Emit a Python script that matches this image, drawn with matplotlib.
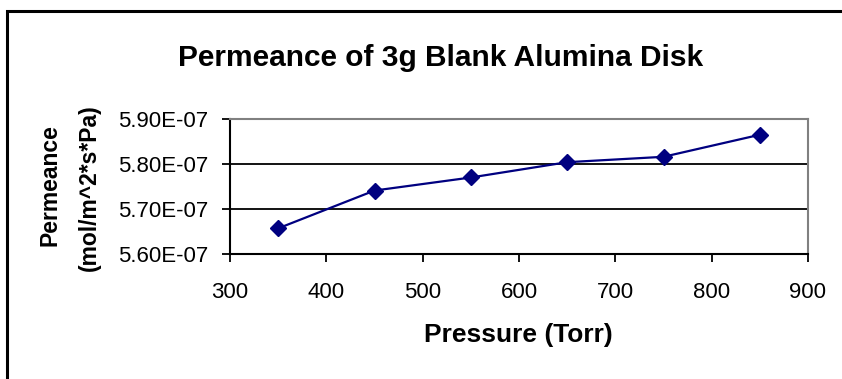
import matplotlib.pyplot as plt
from matplotlib.patches import Rectangle
from matplotlib.ticker import FuncFormatter

pressure = [350, 450, 550, 650, 750, 850]
permeance = [5.657e-07, 5.741e-07, 5.770e-07, 5.804e-07, 5.816e-07, 5.865e-07]
x_ticks = [300, 400, 500, 600, 700, 800, 900]
y_ticks = [5.60e-07, 5.70e-07, 5.80e-07, 5.90e-07]

plt.rcParams['font.family'] = ['Liberation Sans', 'DejaVu Sans']

W, H = 842, 379
fig = plt.figure(figsize=(W / 100, H / 100), dpi=100)
# plot area in pixels: x 230..808, y 119..254
ax = fig.add_axes([230 / W, 1 - 254 / H, 578 / W, 135 / H])

# chart frame (runs off the right and bottom edges)
fig.patches.append(Rectangle((7 / W, -0.05), 1.2, 1 - 11 / H + 0.05,
                             transform=fig.transFigure, fill=False,
                             edgecolor='black', linewidth=2.2, zorder=0))

for y in y_ticks[1:-1]:
    ax.axhline(y, color='black', linewidth=1.3, zorder=1)

ax.plot(pressure, permeance, color='#000080', linewidth=1.6,
        marker='D', markersize=8, markerfacecolor='#000080',
        markeredgecolor='#000080', zorder=3)

ax.set_xlim(300, 900)
ax.set_ylim(5.60e-07, 5.90e-07)
ax.set_xticks(x_ticks)
ax.set_yticks(y_ticks)
ax.yaxis.set_major_formatter(FuncFormatter(lambda v, p: f"{v*1e7:.2f}E-07"))

for side in ['top', 'right']:
    ax.spines[side].set_color('#808080')
    ax.spines[side].set_linewidth(1.5)
for side in ['left', 'bottom']:
    ax.spines[side].set_color('black')
    ax.spines[side].set_linewidth(1.5)

ax.tick_params(axis='both', direction='out', length=5.5, width=1.3,
               labelsize=16, colors='black')
ax.tick_params(axis='x', pad=15)
ax.tick_params(axis='y', pad=10)

fig.text(518 / W, 1 - 335 / H, 'Pressure (Torr)', ha='center', va='center',
         fontsize=19, fontweight='bold')
fig.text(50 / W, 1 - 185 / H, 'Permeance', ha='center', va='center',
         rotation=90, fontsize=16.5, fontweight='bold')
fig.text(89 / W, 1 - 188 / H, '(mol/m^2*s*Pa)', ha='center', va='center',
         rotation=90, fontsize=16.5, fontweight='bold')
fig.text(441 / W, 1 - 58 / H, 'Permeance of 3g Blank Alumina Disk',
         ha='center', va='center', fontsize=21.5, fontweight='bold')

fig.savefig('out.png', dpi=100)
